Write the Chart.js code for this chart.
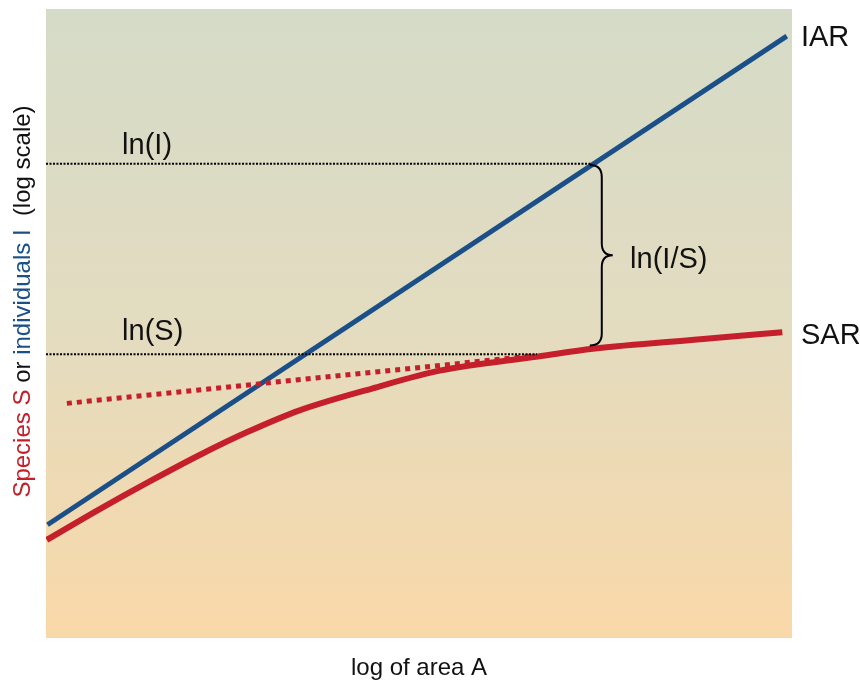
<!DOCTYPE html>
<html>
<head>
<meta charset="utf-8">
<script src="https://cdn.jsdelivr.net/npm/chart.js@4.4.1/dist/chart.umd.min.js"></script>
<style>
  html, body { margin: 0; padding: 0; background: #ffffff; }
  #wrap { width: 860px; height: 680px; }
</style>
</head>
<body>
<div id="wrap"><canvas id="chart" width="860" height="680"></canvas></div>
<script>
// x = log of area (0-100), y = log of species / individuals (0-100)
const iarPoints = [
  { x: 0.2, y: 18.0 },
  { x: 99.3, y: 95.7 },
];
const sarPoints = [
  { x: 0.1, y: 15.6 },
  { x: 7.2, y: 20.5 },
  { x: 13.9, y: 24.9 },
  { x: 20.6, y: 29.1 },
  { x: 26.9, y: 32.7 },
  { x: 34.0, y: 36.2 },
  { x: 43.8, y: 39.7 },
  { x: 52.8, y: 42.5 },
  { x: 66.2, y: 44.8 },
  { x: 73.3, y: 46.0 },
  { x: 87.7, y: 47.5 },
  { x: 98.7, y: 48.6 },
];
const sarExtrapolated = [
  { x: 2.8, y: 37.3 },
  { x: 64.9, y: 44.8 },
];
const lnILine = [
  { x: 0, y: 75.4 },
  { x: 73.2, y: 75.4 },
];
const lnSLine = [
  { x: 0, y: 45.1 },
  { x: 65.8, y: 45.1 },
];
// brace between ln(I) and ln(S)
const braceX = 74.5;
const braceTop = 75.2;
const braceBottom = 46.5;

const labels = [
  { text: "ln(I)", x: 10.2, y: 77.0 },
  { text: "ln(S)", x: 10.2, y: 47.3 },
  { text: "ln(I/S)", x: 78.3, y: 58.9 },
  { text: "IAR", x: 101.2, y: 94.1 },
  { text: "SAR", x: 101.2, y: 46.8 },
];

const blue = "#1b4f87";
const red = "#c41f2a";
const labelFont = '29px "Liberation Sans", Arial, sans-serif';
const titleFont = '24px "Liberation Sans", Arial, sans-serif';

const decor = {
  id: "decor",
  beforeDatasetsDraw(chart) {
    const { ctx, chartArea: a } = chart;
    const g = ctx.createLinearGradient(0, a.top, 0, a.bottom);
    g.addColorStop(0, "#d5dbc8");
    g.addColorStop(0.5, "#e3dcc0");
    g.addColorStop(1, "#f9d8a8");
    ctx.save();
    ctx.fillStyle = g;
    ctx.fillRect(a.left, a.top, a.right - a.left, a.bottom - a.top);
    ctx.restore();
  },
  afterDatasetsDraw(chart) {
    const { ctx, chartArea: a } = chart;
    const xs = chart.scales.x;
    const ys = chart.scales.y;
    ctx.save();

    // brace
    const bx = xs.getPixelForValue(braceX);
    const t = ys.getPixelForValue(braceTop);
    const b = ys.getPixelForValue(braceBottom);
    const m = (t + b) / 2;
    const r = 12;
    ctx.strokeStyle = "#000";
    ctx.lineWidth = 2;
    ctx.beginPath();
    ctx.moveTo(bx - r, t);
    ctx.quadraticCurveTo(bx, t, bx, t + r);
    ctx.lineTo(bx, m - r);
    ctx.quadraticCurveTo(bx, m, bx + r - 1, m);
    ctx.quadraticCurveTo(bx, m, bx, m + r);
    ctx.lineTo(bx, b - r);
    ctx.quadraticCurveTo(bx, b, bx - r, b);
    ctx.stroke();

    // labels
    ctx.fillStyle = "#111";
    ctx.font = labelFont;
    ctx.textAlign = "left";
    ctx.textBaseline = "alphabetic";
    labels.forEach((l) => {
      ctx.fillText(l.text, xs.getPixelForValue(l.x), ys.getPixelForValue(l.y));
    });

    // x axis title
    ctx.font = titleFont;
    ctx.textAlign = "center";
    ctx.fillText("log of area A", (a.left + a.right) / 2, 675);

    // y axis title, several colours
    const parts = [
      ["Species S", red],
      [" or ", "#111"],
      ["individuals I", blue],
      ["  (log scale)", "#111"],
    ];
    ctx.textAlign = "left";
    let total = 0;
    parts.forEach((p) => (total += ctx.measureText(p[0]).width));
    ctx.translate(30, (a.top + a.bottom) / 2 - 22);
    ctx.rotate(-Math.PI / 2);
    let pos = -total / 2;
    parts.forEach((p) => {
      ctx.fillStyle = p[1];
      ctx.fillText(p[0], pos, 0);
      pos += ctx.measureText(p[0]).width;
    });
    ctx.restore();
  },
};

new Chart(document.getElementById("chart"), {
  type: "line",
  data: {
    datasets: [
      {
        label: "ln(I)",
        data: lnILine,
        borderColor: "#000",
        borderWidth: 2,
        borderDash: [2, 1.5],
        pointRadius: 0,
      },
      {
        label: "ln(S)",
        data: lnSLine,
        borderColor: "#000",
        borderWidth: 2,
        borderDash: [2, 1.5],
        pointRadius: 0,
      },
      {
        label: "SAR extrapolated",
        data: sarExtrapolated,
        borderColor: red,
        borderWidth: 5,
        borderDash: [5, 5],
        borderCapStyle: "butt",
        pointRadius: 0,
      },
      {
        label: "SAR",
        data: sarPoints,
        borderColor: red,
        borderWidth: 6,
        cubicInterpolationMode: "monotone",
        pointRadius: 0,
      },
      {
        label: "IAR",
        data: iarPoints,
        borderColor: blue,
        borderWidth: 5,
        pointRadius: 0,
      },
    ],
  },
  options: {
    responsive: false,
    animation: false,
    devicePixelRatio: 1,
    layout: { padding: { left: 46, right: 68, top: 9, bottom: 42 } },
    plugins: {
      legend: { display: false },
      tooltip: { enabled: false },
    },
    scales: {
      x: { type: "linear", min: 0, max: 100, display: false },
      y: { type: "linear", min: 0, max: 100, display: false },
    },
  },
  plugins: [decor],
});
</script>
</body>
</html>
